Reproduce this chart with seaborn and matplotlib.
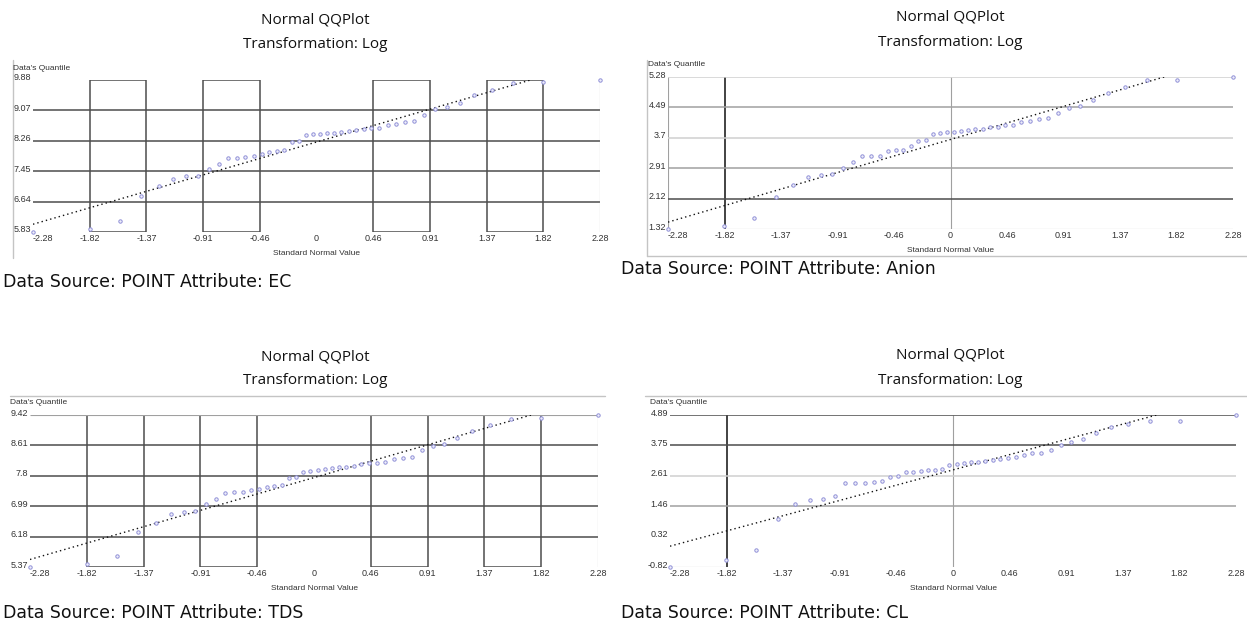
import numpy as np
import matplotlib
matplotlib.use('Agg')
import matplotlib.pyplot as plt
import matplotlib.transforms as mtransforms
import seaborn as sns
from statistics import NormalDist

# sorted sample values (log transformed)
ec = [5.83, 5.92, 6.12, 6.78, 7.05, 7.25, 7.32, 7.33, 7.52, 7.65, 7.81, 7.81,
      7.82, 7.86, 7.91, 7.96, 7.98, 8.01, 8.22, 8.25, 8.41, 8.43, 8.45, 8.46,
      8.47, 8.50, 8.51, 8.55, 8.58, 8.61, 8.61, 8.68, 8.71, 8.75, 8.79, 8.96,
      9.11, 9.17, 9.26, 9.48, 9.61, 9.79, 9.82, 9.88]
anion = [1.32, 1.39, 1.61, 2.16, 2.46, 2.67, 2.73, 2.75, 2.90, 3.06, 3.21, 3.23,
         3.23, 3.34, 3.37, 3.37, 3.47, 3.60, 3.65, 3.80, 3.82, 3.84, 3.86, 3.88,
         3.91, 3.93, 3.93, 3.97, 3.99, 4.02, 4.04, 4.10, 4.13, 4.19, 4.21, 4.34,
         4.46, 4.52, 4.68, 4.87, 5.02, 5.20, 5.20, 5.28]
tds = [5.37, 5.44, 5.66, 6.31, 6.55, 6.79, 6.83, 6.85, 7.04, 7.17, 7.35, 7.37,
       7.37, 7.41, 7.45, 7.51, 7.52, 7.56, 7.74, 7.77, 7.91, 7.93, 7.95, 7.97,
       8.00, 8.03, 8.04, 8.07, 8.11, 8.13, 8.15, 8.17, 8.24, 8.28, 8.31, 8.49,
       8.59, 8.66, 8.80, 9.00, 9.15, 9.31, 9.33, 9.42]
cl = [-0.82, -0.57, -0.17, 1.00, 1.53, 1.71, 1.75, 1.84, 2.32, 2.32, 2.34, 2.37,
      2.41, 2.57, 2.59, 2.73, 2.74, 2.78, 2.82, 2.84, 2.87, 3.03, 3.05, 3.07,
      3.11, 3.13, 3.16, 3.20, 3.23, 3.28, 3.32, 3.38, 3.45, 3.48, 3.57, 3.76,
      3.86, 3.99, 4.22, 4.43, 4.54, 4.66, 4.66, 4.89]

attributes = ['EC', 'Anion', 'TDS', 'CL']
x_labels = ['-2.28', '-1.82', '-1.37', '-0.91', '-0.46', '0', '0.46', '0.91', '1.37', '1.82', '2.28']
y_labels = [['5.83', '6.64', '7.45', '8.26', '9.07', '9.88'],
            ['1.32', '2.12', '2.91', '3.7', '4.49', '5.28'],
            ['5.37', '6.18', '6.99', '7.8', '8.61', '9.42'],
            ['-0.82', '0.32', '1.46', '2.61', '3.75', '4.89']]

sns.set_theme(style='white')
plt.rcParams['font.family'] = ['Open Sans', 'DejaVu Sans']

W, H = 1247, 625
fig = plt.figure(figsize=(W / 100, H / 100), dpi=100)

# pixel boxes (left, top, right, bottom) for each plot area
boxes = [(33, 80, 600, 232), (668, 77, 1233, 229), (30, 415, 598, 567), (670, 415, 1236, 567)]
title_pos = [(315, 20, 45), (950, 17, 42), (315, 357, 381), (950, 355, 380)]
source_pos = [(3, 282), (621, 269), (3, 613), (621, 613)]

dark = '#4d4d4d'
mid = '#a0a0a0'
light = '#cfcfcf'
pt_color = '#9090d8'
small_font = ['Liberation Sans', 'DejaVu Sans']

nd = NormalDist()


def fx(px):
    return px / W


def fy(py):
    return 1 - py / H


def box_grid(ax, xt, yt, top_full):
    for y in yt[1:-1]:
        ax.hlines(y, xt[0], xt[-1], color=dark, lw=1.1, zorder=1)
    for a, b in [(1, 2), (3, 4), (6, 7), (8, 9)]:
        ax.vlines([xt[a], xt[b]], yt[0], yt[-1], color=dark, lw=1.1, zorder=1)
        ax.hlines([yt[0], yt[-1]], xt[a], xt[b], color=dark, lw=1.1, zorder=1)
    ax.vlines(xt[-1], yt[0], yt[-1], color=mid, lw=0.8, zorder=1)
    if top_full:
        ax.hlines(yt[-1], xt[0], xt[-1], color=mid, lw=0.8, zorder=1)


def cross_grid(ax, xt, yt, hcolors, bottom_span):
    ax.vlines(xt[1], yt[0], yt[-1], color='#222222', lw=1.2, zorder=1)
    ax.vlines(xt[5], yt[0], yt[-1], color=mid, lw=0.8, zorder=1)
    for y, c in zip(yt[1:], hcolors):
        if c is not None:
            ax.hlines(y, xt[0], xt[-1], color=c, lw=1.1, zorder=1)
    ax.hlines(yt[0], xt[bottom_span[0]], xt[bottom_span[1]], color=mid, lw=0.8, zorder=1)


up = mtransforms.ScaledTranslation(0, 3 / 100, fig.dpi_scale_trans)

for k, vals in enumerate([ec, anion, tds, cl]):
    vals = np.array(vals)
    n = len(vals)
    xq = np.array([nd.inv_cdf((i + 0.5) / n) for i in range(n)])
    l, t, r, b = boxes[k]
    ax = fig.add_axes([fx(l), fy(b), (r - l) / W, (b - t) / H])
    xt = np.linspace(xq[0], xq[-1], 11)
    yt = np.linspace(vals.min(), vals.max(), 6)

    if k == 0:
        box_grid(ax, xt, yt, False)
    elif k == 2:
        box_grid(ax, xt, yt, True)
    elif k == 1:
        ax.vlines(xt[0], yt[0], yt[-1], color=mid, lw=0.8, zorder=1)
        cross_grid(ax, xt, yt, [dark, mid, light, mid, light], (1, 10))
    else:
        cross_grid(ax, xt, yt, [None, mid, light, dark, dark], (0, 1))

    # reference line: mean + sd * z
    line_x = np.array([xt[0], xt[-1]])
    line_y = vals.mean() + vals.std(ddof=1) * line_x
    sns.lineplot(x=line_x, y=line_y, ax=ax, color='#111111', lw=1.0,
                 linestyle=(0, (1, 2.2)), zorder=2)
    sns.scatterplot(x=xq, y=vals, ax=ax, marker='o', s=6, facecolor='#eeeefa',
                    edgecolor=pt_color, linewidth=0.7, zorder=3, clip_on=False)

    ax.set_xlim(xt[0], xt[-1])
    ax.set_ylim(yt[0], yt[-1])
    ax.set_xticks(xt)
    ax.set_xticklabels(x_labels)
    ax.set_yticks(yt)
    ax.set_yticklabels(y_labels[k])
    ax.tick_params(length=0, labelsize=6.5, labelcolor='#333333', pad=1.5)
    for tl in ax.get_xticklabels() + ax.get_yticklabels():
        tl.set_family(small_font)
    ax.get_xticklabels()[0].set_horizontalalignment('left')
    for tl in ax.get_yticklabels():
        tl.set_transform(tl.get_transform() + up)
    ax.set_xlabel('')
    ax.set_ylabel('')
    for s in ax.spines.values():
        s.set_visible(False)
    ax.patch.set_alpha(0)

    tx, ty1, ty2 = title_pos[k]
    fig.text(fx(tx), fy(ty1), 'Normal QQPlot', ha='center', va='center', fontsize=11, color='#111111')
    fig.text(fx(tx), fy(ty2), 'Transformation: Log', ha='center', va='center', fontsize=11, color='#111111')
    sx, sy = source_pos[k]
    fig.text(fx(sx), fy(sy), 'Data Source: POINT Attribute: ' + attributes[k], ha='left', va='center',
             fontsize=12.5, color='#111111', family=['DejaVu Sans'])
    fig.text(fx(l - 20), fy(t - 12), "Data's Quantile", ha='left', va='center',
             fontsize=6, color='#333333', family=small_font)
    fig.text(fx((l + r) / 2), fy(b + 21), 'Standard Normal Value', ha='center', va='center',
             fontsize=6, color='#333333', family=small_font)

# faint frame lines of the original screenshots
frame = dict(color='#c4c4c4', lw=1.0, transform=fig.transFigure)
fig.add_artist(plt.Line2D([fx(13), fx(13)], [fy(60), fy(258)], **frame))
fig.add_artist(plt.Line2D([fx(647), fx(647)], [fy(60), fy(256)], **frame))
fig.add_artist(plt.Line2D([fx(647), fx(1247)], [fy(256), fy(256)], **frame))
fig.add_artist(plt.Line2D([fx(10), fx(605)], [fy(396), fy(396)], **frame))
fig.add_artist(plt.Line2D([fx(645), fx(1247)], [fy(396), fy(396)], **frame))

fig.savefig('out.png', dpi=100)
